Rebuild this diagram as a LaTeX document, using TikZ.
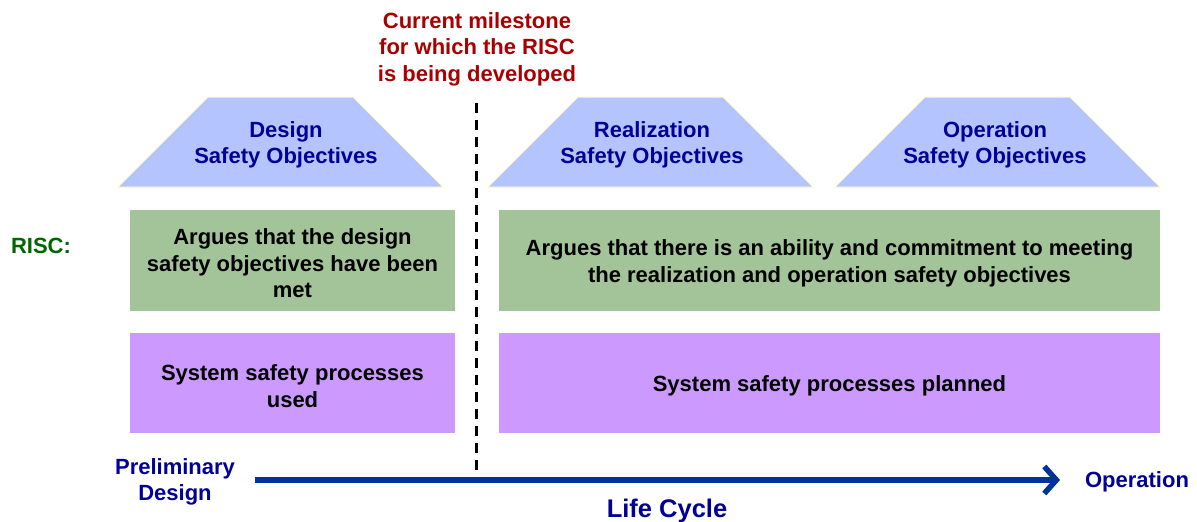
\documentclass[tikz,border=0pt]{standalone}
\usepackage{fontspec}
\setmainfont{Liberation Sans}
\usepackage{xcolor}
\usetikzlibrary{shapes,arrows,positioning,calc,arrows.meta}
\definecolor{objfill}{RGB}{180,196,255}
\definecolor{objedge}{RGB}{255,250,200}
\definecolor{objtext}{RGB}{0,0,150}
\definecolor{riscfill}{RGB}{163,196,152}
\definecolor{procfill}{RGB}{204,153,255}
\definecolor{mstext}{RGB}{168,0,0}
\definecolor{risctext}{RGB}{0,102,0}
\definecolor{lcline}{RGB}{0,51,153}
\newcommand{\up}{\rule{0pt}{1em}}
\tikzset{
    big/.style={font=\fontsize{22}{26.5}\selectfont\bfseries, align=center},
    objective/.style={big, text=objtext},
    riscbox/.style={big, rectangle, fill=riscfill, inner sep=0pt, minimum height=101pt},
    procbox/.style={big, rectangle, fill=procfill, inner sep=0pt, minimum height=100pt}
}
\begin{document}
\begin{tikzpicture}[x=1pt,y=-1pt]
    \useasboundingbox (0,0) rectangle (1197,522);

    % Milestone
    \node[big, text=mstext] (ms) at (477,49) {Current milestone\\for which the RISC\\is being developed};
    \coordinate (mstop) at (476,103);
    \coordinate (msbot) at (476,470);
    \draw[line width=3pt, dash pattern=on 10pt off 7pt] (mstop) -- (msbot);

    % Safety objectives (trapezoids drawn round the label nodes)
    \foreach \x in {280.5, 650.5, 997.5}
        \draw[fill=objfill, draw=objedge, line width=1pt]
            (\x-162.5,187) -- (\x-72.5,97) -- (\x+72.5,97) -- (\x+162.5,187) -- cycle;
    \node[objective] (desobj) at (286,145) {Design\\Safety Objectives};
    \node[objective] (realobj) at (652,145) {Realization\\Safety Objectives};
    \node[objective] (opobj) at (995,145) {Operation\\Safety Objectives};

    % RISC
    \node[big, text=risctext] (risc) at (41,243) {\up RISC:};
    \node[riscbox, minimum width=325pt] (riscdes) at (292.5,260.5)
        {\up Argues that the design\\safety objectives have been\\met};
    \node[riscbox, minimum width=661pt] (riscrest) at (829.5,260.5)
        {\up Argues that there is an ability and commitment to meeting\\the realization and operation safety objectives};

    % Processes
    \node[procbox, minimum width=325pt] (procused) at (292.5,383) {\up System safety processes\\used};
    \node[procbox, minimum width=661pt] (procplan) at (829.5,383) {\up System safety processes planned};

    % Life cycle
    \node[big, text=objtext] (prelim) at (175,482) {Preliminary\\Design};
    \node[big, text=objtext] (oper) at (1137,479) {\up Operation};
    \node[big, text=objtext, font=\fontsize{25.5}{30}\selectfont\bfseries] (lc) at (667,507) {\up Life Cycle};
    \coordinate (lcstart) at (255,480);
    \coordinate (lcend) at (1060,480);
    \draw[line width=5.5pt, lcline, -{Straight Barb[length=12pt,width=27pt]}] (lcstart) -- (lcend);
\end{tikzpicture}
\end{document}
